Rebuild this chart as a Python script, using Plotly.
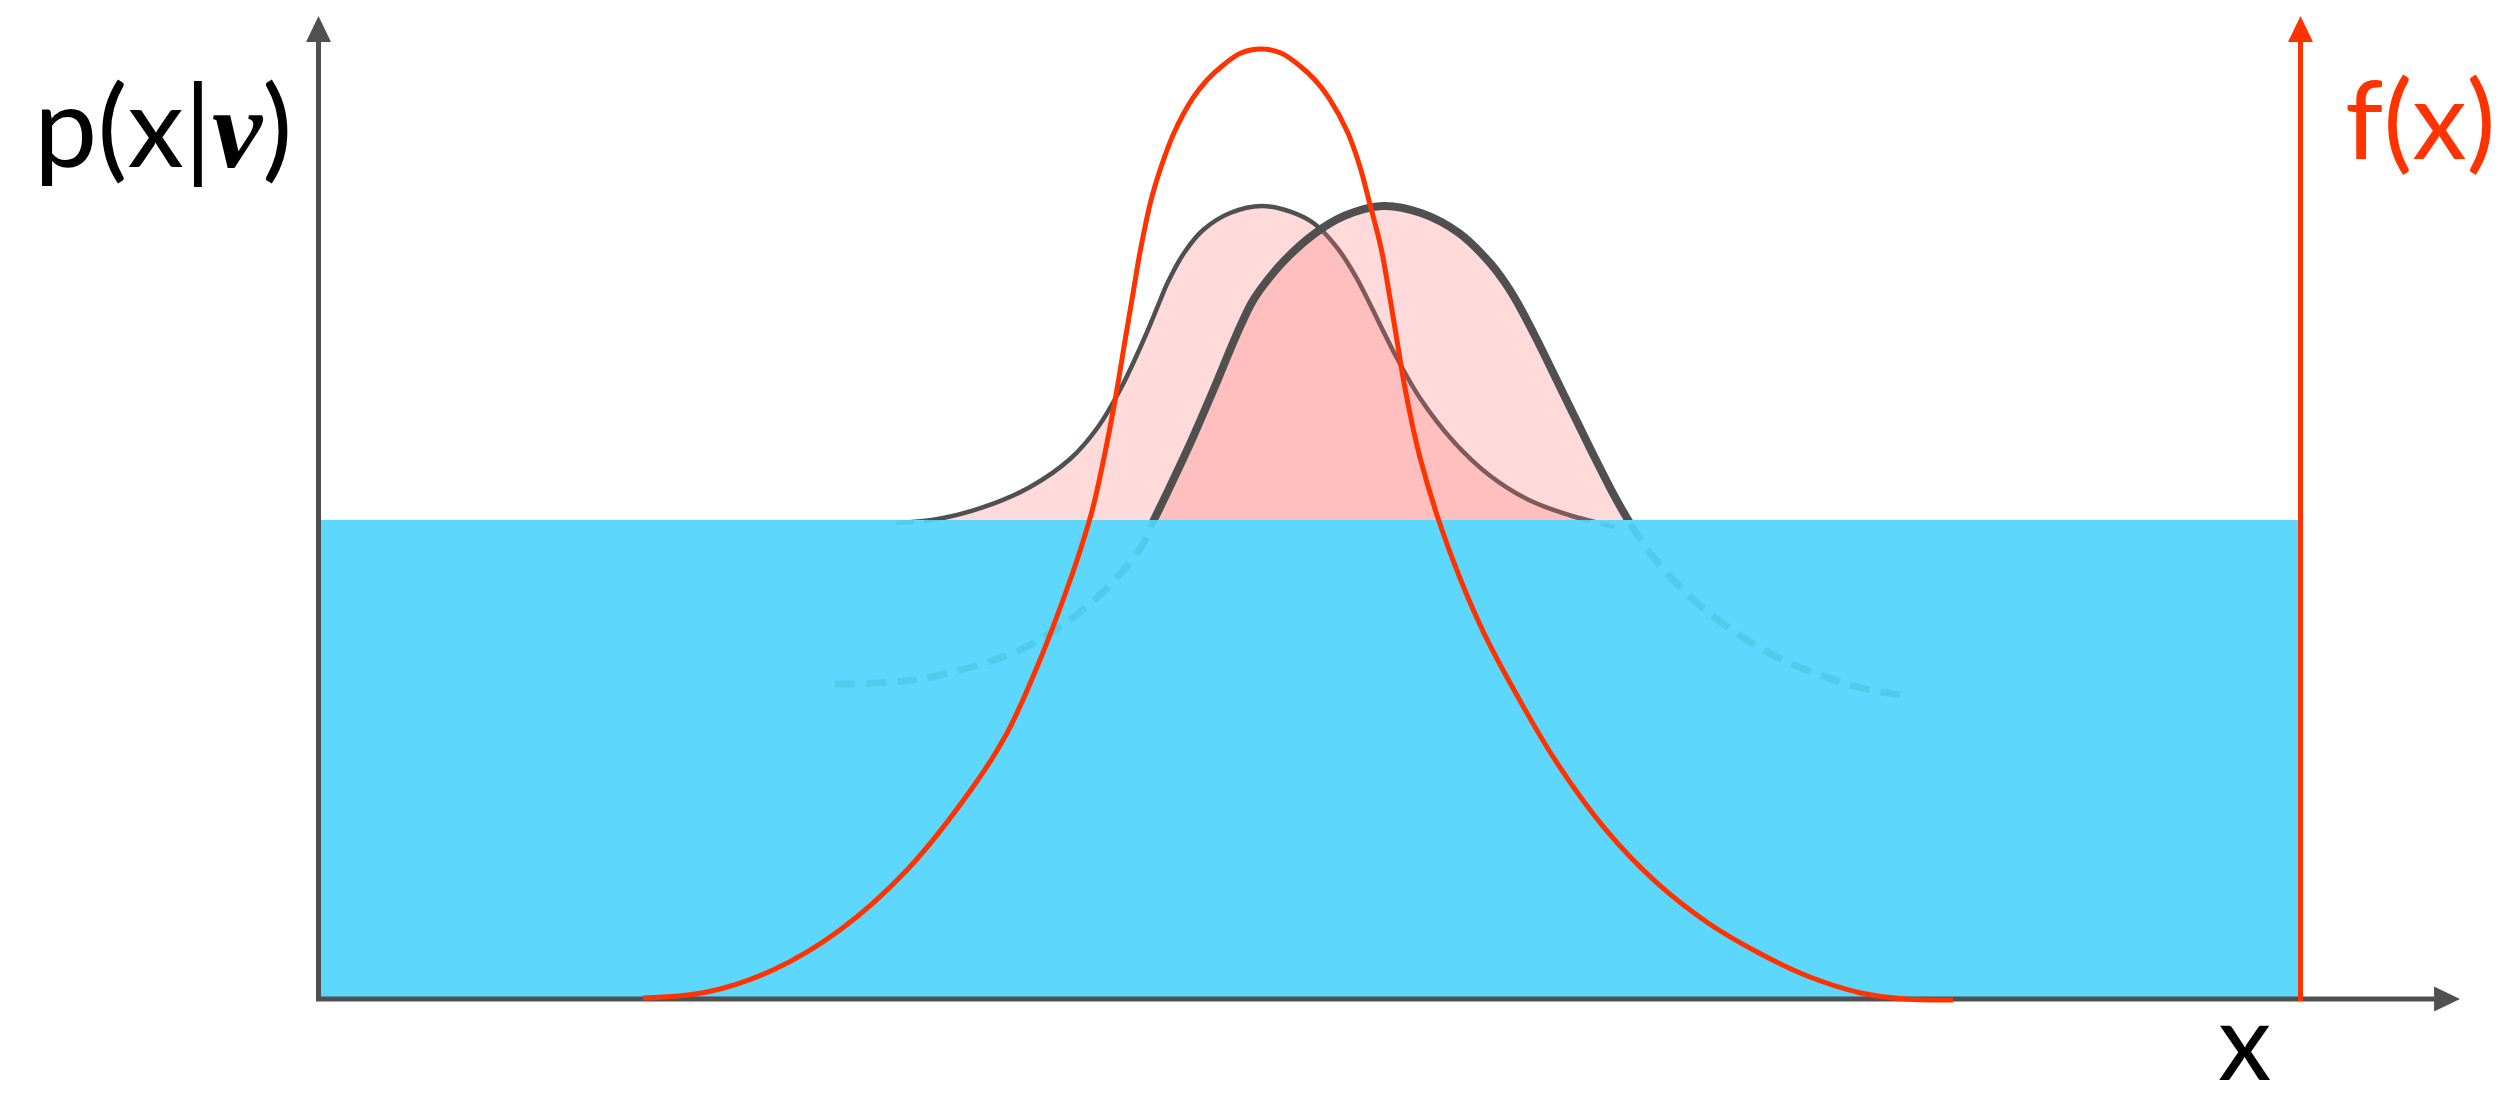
import plotly.graph_objects as go

# Canvas and coordinate frame (pixels per data unit, pixel position of the origin)
W, H = 2500, 1103
PX_PER_X, X0_PX = 198.2, 318.5   # x = 0 sits on the vertical p-axis
PX_PER_Y, Y0_PX = 95.5, 999.0    # y = 0 sits on the horizontal x-axis

# f(x): target function (red curve)
f_x = [1.637, 1.960, 2.293, 2.631, 2.969, 3.302, 3.474, 3.640, 3.771, 3.847,
       3.908, 3.963, 4.019, 4.074, 4.110, 4.145, 4.200, 4.251, 4.316, 4.412,
       4.483, 4.559, 4.654, 4.755, 4.856, 4.952, 5.028, 5.098, 5.194, 5.255,
       5.300, 5.361, 5.406, 5.441, 5.477, 5.517, 5.557, 5.653, 5.759, 5.880,
       6.032, 6.239, 6.496, 6.753, 7.011, 7.268, 7.525, 7.783, 8.005, 8.247]
f_y = [0.010, 0.073, 0.304, 0.723, 1.351, 2.220, 2.785, 3.550, 4.262, 4.723,
       5.152, 5.665, 6.272, 6.953, 7.393, 7.822, 8.361, 8.712, 9.068, 9.435,
       9.623, 9.770, 9.906, 9.948, 9.906, 9.770, 9.623, 9.435, 9.068, 8.712,
       8.361, 7.864, 7.340, 6.901, 6.450, 6.031, 5.675, 5.005, 4.408, 3.832,
       3.236, 2.503, 1.770, 1.215, 0.796, 0.482, 0.230, 0.063, 0.000, -0.010]

# p(x|nu), first parameter value (thin outline)
p1_x = [2.914, 3.126, 3.358, 3.590, 3.792, 3.933, 4.049, 4.165, 4.251, 4.281,
        4.367, 4.463, 4.599, 4.760, 4.907, 5.023, 5.139, 5.235, 5.295, 5.441,
        5.557, 5.729, 5.906, 6.107, 6.309, 6.541]
p1_y = [4.984, 5.026, 5.152, 5.361, 5.654, 5.990, 6.398, 6.911, 7.340, 7.487,
        7.812, 8.052, 8.230, 8.304, 8.241, 8.120, 7.868, 7.560, 7.319, 6.712,
        6.293, 5.832, 5.487, 5.225, 5.068, 4.942]

# p(x|nu), second parameter value (thick outline)
p2_x = [2.606, 2.964, 3.221, 3.479, 3.686, 3.842, 3.993, 4.150, 4.215, 4.281,
        4.397, 4.513, 4.629, 4.705, 4.750, 4.866, 5.023, 5.174, 5.371, 5.563,
        5.754, 5.911, 5.991, 6.047, 6.138, 6.279, 6.425, 6.541, 6.617, 6.703,
        6.859, 7.011, 7.192, 7.399, 7.606, 7.783, 8.015]
p2_y = [3.298, 3.330, 3.435, 3.602, 3.822, 4.052, 4.335, 4.733, 5.016, 5.298,
        5.812, 6.366, 6.942, 7.277, 7.424, 7.717, 8.010, 8.199, 8.304, 8.230,
        8.021, 7.707, 7.487, 7.298, 6.942, 6.346, 5.728, 5.257, 4.984, 4.712,
        4.335, 4.052, 3.780, 3.539, 3.372, 3.257, 3.173]

# Blue band and axis extents (data units)
band_level = 5.016
band_left, band_right = 0.0, 10.0
p_axis_top = 10.293
x_axis_end = 10.805

# Styling
GRAY = "#505050"
RED = "#ff3300"
BLUE = "#5ed7fd"
DASH_BLUE = "#50cbeb"
PINK_FILL = "rgba(255,120,120,0.27)"
FONT = "Lato"
ARROW_LEN_PX, ARROW_HALF_PX = 26, 12.5

x_range = [-X0_PX / PX_PER_X, (W - X0_PX) / PX_PER_X]
y_range = [-(H - Y0_PX) / PX_PER_Y, Y0_PX / PX_PER_Y]
band_px = Y0_PX - band_level * PX_PER_Y
band_dom = (H - band_px) / H
y2_range = [y_range[0], y_range[0] + (y_range[1] - y_range[0]) * band_dom]

hw_x = ARROW_HALF_PX / PX_PER_X
hw_y = ARROW_HALF_PX / PX_PER_Y
al_x = ARROW_LEN_PX / PX_PER_X
al_y = ARROW_LEN_PX / PX_PER_Y


def arrow_up(xc, ytip):
    return ([xc - hw_x, xc + hw_x, xc, xc - hw_x],
            [ytip - al_y, ytip - al_y, ytip, ytip - al_y])


def arrow_right(xtip, yc):
    return ([xtip - al_x, xtip - al_x, xtip, xtip - al_x],
            [yc - hw_y, yc + hw_y, yc, yc - hw_y])


fig = go.Figure()
spline = dict(shape="spline", smoothing=1.0, simplify=False)

# --- lower layer: the two likelihood curves and the blue band ---
fig.add_trace(go.Scatter(x=p1_x, y=p1_y, fill="toself", fillcolor=PINK_FILL,
                         mode="lines", line=dict(width=0, **spline),
                         hoverinfo="skip"))
fig.add_trace(go.Scatter(x=p1_x, y=p1_y, mode="lines",
                         line=dict(color=GRAY, width=4.5, **spline),
                         hoverinfo="skip"))
fig.add_trace(go.Scatter(x=p2_x, y=p2_y, fill="toself", fillcolor=PINK_FILL,
                         mode="lines", line=dict(width=0, **spline),
                         hoverinfo="skip"))
fig.add_trace(go.Scatter(x=p2_x, y=p2_y, mode="lines",
                         line=dict(color=GRAY, width=8, **spline),
                         hoverinfo="skip"))
fig.add_trace(go.Scatter(x=[band_left, band_right, band_right, band_left, band_left],
                         y=[0, 0, band_level, band_level, 0],
                         fill="toself", fillcolor=BLUE, mode="lines",
                         line=dict(width=0), hoverinfo="skip"))

# --- middle layer: curve tails seen through the band (clipped to the band) ---
fig.add_trace(go.Scatter(x=p1_x, y=p1_y, mode="lines", xaxis="x", yaxis="y2",
                         line=dict(color=DASH_BLUE, width=4.5, dash="18px,10px", **spline),
                         hoverinfo="skip"))
fig.add_trace(go.Scatter(x=p2_x, y=p2_y, mode="lines", xaxis="x", yaxis="y2",
                         line=dict(color=DASH_BLUE, width=7, dash="20px,11px", **spline),
                         hoverinfo="skip"))

# --- top layer: axes and f(x) ---
fig.add_trace(go.Scatter(x=[0, 0, x_axis_end - al_x], y=[p_axis_top - al_y, 0, 0],
                         xaxis="x", yaxis="y3", mode="lines",
                         line=dict(color=GRAY, width=5), hoverinfo="skip"))
for ax_, ay_ in (arrow_up(0, p_axis_top), arrow_right(x_axis_end, 0)):
    fig.add_trace(go.Scatter(x=ax_, y=ay_, xaxis="x", yaxis="y3", mode="lines",
                             fill="toself", fillcolor=GRAY,
                             line=dict(color=GRAY, width=0), hoverinfo="skip"))
fig.add_trace(go.Scatter(x=f_x, y=f_y, xaxis="x", yaxis="y3", mode="lines",
                         line=dict(color=RED, width=5, **spline), hoverinfo="skip"))
fig.add_trace(go.Scatter(x=[band_right, band_right], y=[-0.02, p_axis_top - al_y],
                         xaxis="x", yaxis="y3", mode="lines",
                         line=dict(color=RED, width=5), hoverinfo="skip"))
ax_, ay_ = arrow_up(band_right, p_axis_top)
fig.add_trace(go.Scatter(x=ax_, y=ay_, xaxis="x", yaxis="y3", mode="lines",
                         fill="toself", fillcolor=RED,
                         line=dict(color=RED, width=0), hoverinfo="skip"))

hidden = dict(visible=False, showgrid=False, zeroline=False, fixedrange=True)
fig.update_layout(
    width=W, height=H,
    margin=dict(l=0, r=0, t=0, b=0, pad=0),
    paper_bgcolor="white", plot_bgcolor="rgba(0,0,0,0)",
    showlegend=False,
    xaxis=dict(range=x_range, domain=[0, 1], **hidden),
    yaxis=dict(range=y_range, domain=[0, 1], anchor="x", **hidden),
    yaxis2=dict(range=y2_range, domain=[0, band_dom], anchor="x", **hidden),
    yaxis3=dict(range=y_range, domain=[0, 1], anchor="x", **hidden),
    annotations=[
        dict(text="p(x|<span style=\"font-family:'Liberation Serif'\"><b><i>ν</i></b></span>)",
             xref="paper", yref="paper", x=162.5 / W, y=1 - 123 / H,
             xanchor="center", yanchor="middle", showarrow=False,
             font=dict(family=FONT, size=113, color="black")),
        dict(text="f(x)", xref="paper", yref="paper", x=2420 / W, y=1 - 117 / H,
             xanchor="center", yanchor="middle", showarrow=False,
             font=dict(family=FONT, size=109, color=RED)),
        dict(text="x", xref="paper", yref="paper", x=2244 / W, y=1 - 1038 / H,
             xanchor="center", yanchor="middle", showarrow=False,
             font=dict(family=FONT, size=107, color="black")),
    ],
)

fig.write_html("out.html")
